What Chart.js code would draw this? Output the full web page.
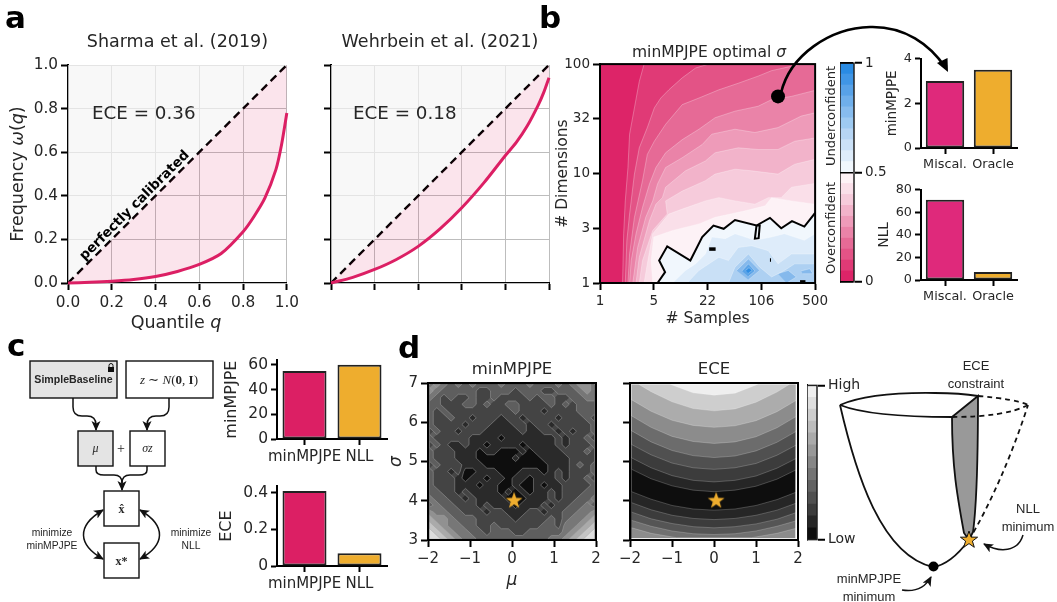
<!DOCTYPE html>
<html lang="en">
<head>
<meta charset="UTF-8">
<title>Calibration figure</title>
<script src="https://cdn.jsdelivr.net/npm/chart.js"></script>
<style>
  html, body { margin: 0; background: #fff; }
  #page { position: relative; width: 1057px; height: 602px; overflow: hidden; }
  #page canvas { position: absolute; }
  #overlay { position: absolute; left: 0; top: 0; }
  #overlay text { font-family: "DejaVu Sans"; fill: #262626; }
  #overlay .box { stroke: #111; stroke-width: 1.4; fill: #fff; }
  #overlay .grey { fill: #e4e4e4; }
  #overlay .link { stroke: #111; stroke-width: 1.5; fill: none; }
  #overlay .sans { font-family: "Liberation Sans"; }
  #overlay .serif { font-family: "Liberation Serif"; }
</style>
</head>
<body>
<div id="page"></div>
<script>
// panel a
const quantiles  = [0, .1, .2, .3, .4, .5, .6, .7, .8, .85, .9, .95, .975, 1];
const sharmaFreq = [0, .003, .008, .016, .03, .053, .085, .135, .235, .305, .39, .52, .63, .78];
const wehrbFreq  = [0, .026, .062, .108, .168, .248, .345, .458, .585, .645, .72, .815, .872, .942];
const ceiling    = [1, 1, 1, 1, 1, 1, 1, 1, 1, 1, 1, 1, 1, 1];
const unitTicks  = [0, .2, .4, .6, .8, 1];

// panel b, contour outlines in tick-index units
const sampleLabels = ['1', '5', '22', '106', '500'];
const dimLabels    = ['1', '3', '10', '32', '100'];
const bandU = [
  [0,0,4,4],
  [.42,.44,.47,.52,.55,.64,.73,.82,4,4],
  [.47,.50,.55,.64,.73,.88,1.01,1.13,1.28,1.53,1.78,2.02,4,4],
  [.52,.55,.64,.79,.88,1.01,1.22,1.53,1.84,2.21,2.57,2.94,3.19,3.74,4,4],
  [.55,.58,.67,.79,.92,1.04,1.22,1.53,1.84,2.14,2.51,2.94,3.19,3.56,4,4],
  [.61,.70,.85,.98,1.07,1.22,1.53,1.90,2.08,2.51,2.88,3.31,3.74,4,4],
  [.67,.73,.92,1.04,1.16,1.22,1.59,1.96,2.14,2.57,2.94,3.31,3.62,4,4],
  [.73,.79,.98,1.25,1.22,1.53,1.96,2.14,2.51,2.82,3.31,3.62,4,4],
  [.82,.88,.98,1.28,1.53,1.96,2.21,2.51,2.88,3.13,3.37,3.56,4,4],
  [.98,.95,1.0,1.35,1.84,2.14,2.70,3.07,3.19,3.56,4,4],
  [1.07,1.21,1.10,1.25,1.68,1.90,2.11,2.30,2.51,2.91,3.16,3.37,3.57,3.80,4,4],
  [1.35,1.59,1.78,1.96,2.08,2.33,2.51,2.70,2.88,3.19,3.43,3.80,4,4],
  [1.62,1.84,2.21,2.39,2.57,2.82,3.13,3.31,3.56,4,4],
  [2.39,2.51,2.76,2.97,3.19,3.43,3.62,4,4],
  [2.54,2.76,2.97,2.76],
  [3.31,3.50,3.65,3.47],
  [3.74,3.90,3.96,3.77],
  [2.64,2.76,2.88,2.76],
  [2.71,2.77,2.83,2.76]
];
const bandV = [
  [0,4,4,0],
  [0,.90,1.50,2.11,2.72,3.2,3.68,4,4,0],
  [0,.78,1.26,1.99,2.47,2.84,3.2,3.38,3.53,3.75,3.93,4,4,0],
  [0,.53,1.2,1.87,2.35,2.59,2.90,3.26,3.38,3.53,3.65,3.78,3.88,4,4,0],
  [0,.41,.90,1.38,1.81,2.11,2.38,2.62,2.81,3.02,3.14,3.23,3.35,3.41,3.52,0],
  [0,.65,1.2,1.5,1.81,2.11,2.29,2.53,2.72,2.81,2.75,2.84,3.05,3.11,0],
  [0,.47,1.14,1.44,1.56,1.75,2.05,2.23,2.38,2.47,2.44,2.44,2.59,2.65,0],
  [0,.41,.96,1.26,1.5,1.68,1.87,1.99,2.08,2.05,1.99,2.17,2.26,0],
  [0,.35,.90,1.26,1.35,1.5,1.56,1.5,1.44,1.56,1.56,1.75,1.82,0],
  [0,.41,.84,.96,1.08,1.2,1.32,1.41,1.56,1.5,1.44,0],
  [0,.20,.41,.67,.41,.84,1.05,.99,1.15,1.05,1.19,1.0,1.13,1.03,1.28,0],
  [0,.23,.35,.53,.84,.81,.90,.84,.78,.84,.90,.78,.90,0],
  [0,.23,.47,.41,.65,.68,.59,.35,.53,.53,0],
  [0,.29,.53,.29,.11,.23,.35,.35,0],
  [.23,.44,.23,.06],
  [.17,.23,.11,0],
  [.22,.26,.17,.17],
  [.22,.35,.22,.12],
  [.23,.28,.23,.18]
];
const bandColors = ['#dd2468','#e03a76','#e35386','#e66a96','#ea83a8','#ee9bb9','#f2b3ca','#f6cbdb','#fadfe9','#fdf2f6','#f1f7fd',
  '#deecfa','#c9e0f6','#add0f2','#85b9ec','#85b9ec','#85b9ec','#5aa3e7','#2f8de3'];
const calibIdx = 10;
const loopU = [[2.91,2.97,2.95,2.88,2.91],[2.03,2.15],[3.16,3.18],[3.72,3.82]];
const loopV = [[1.05,1.05,.82,.81,1.05],[.62,.62],[.42,.42],[.02,.02]];
const chosenU = [3.31];
const chosenV = [3.41];
const calibBar = ['#dd2468','#e03a76','#e35386','#e66a96','#ea83a8','#ee9bb9','#f2b3ca','#f6cbdb','#fadfe9','#fdf2f6',
  '#f1f7fd','#deecfa','#cbe1f7','#b6d5f4','#9ecaf1','#87bcee','#6fafeb','#58a2e8','#4096e6','#2a8be3'];
const calibTicks = [0, .5, 1];
const calibLabels = ['0', '0.5', '1'];

const barNamesB = ['Miscal.', 'Oracle'];
const mpjpeB = [3.0, 3.5];
const nllB   = [71, 7];
const barNamesC = ['minMPJPE', 'NLL'];
const mpjpeC = [55, 60];
const eceC   = [.41, .07];

// panel d, noise map read as grey levels (top row first)
const noiseRows = [
  '454343433343334333434554',
  '543333322333233322333454',
  '432322322322223233223344',
  '332223323223322223232333',
  '323222222222322212222333',
  '322322122212212222122232',
  '322221222111221221222223',
  '232212221111121122121223',
  '322222111101111111212232',
  '232112110111101111212223',
  '322211101100010111122232',
  '322211100000100011112222',
  '232221110000000001112323',
  '322120011100011101212223',
  '322210110110110111212232',
  '322211101100100101122223',
  '332212111101010112122233',
  '433221211110001112122334',
  '343322212111011121223343',
  '544332221221112212233445',
  '655433322222122223234456',
  '765443322322222233244567',
  '876544332333223333345678',
  '887654433333333334456788'
];
const noiseGreys = ['#0e0e0e','#2a2a2a','#444444','#5e5e5e','#777777','#919191','#aaaaaa','#c4c4c4','#dddddd'];

// ECE bands, outlines from the top band down
const eceMu = [
  [-1.96,1.96,1.96,-1.96],
  [-1.96,-1.05,-.5,0,.5,1.05,1.96,1.96,-1.96],
  [-1.96,-1.8,-1.5,-1,-.5,0,.5,1,1.5,1.8,1.96,1.96,-1.96],
  [-1.96,-1.5,-1,-.5,0,.5,1,1.5,1.96,1.96,-1.96],
  [-1.96,-1.5,-1,-.5,0,.5,1,1.5,1.96,1.96,-1.96],
  [-1.96,-1.5,-1,-.5,0,.5,1,1.5,1.96,1.96,-1.96],
  [-1.96,-1.5,-1,-.5,0,.5,1,1.5,1.96,1.96,-1.96],
  [-1.96,-1.5,-1,-.5,0,.5,1,1.5,1.96,1.96,-1.96],
  [-1.96,-1.5,-1,-.5,0,.5,1,1.5,1.96,1.96,-1.96],
  [-1.96,-1.5,-1,-.5,0,.5,1,1.5,1.96,1.96,-1.96],
  [-1.96,-1.5,-1,-.5,0,.5,1,1.5,1.96,1.96,-1.96],
  [-1.96,-1.5,-1,-.5,0,.5,1,1.5,1.96,1.96,-1.96],
  [-1.96,-1.5,-1,-.5,0,.5,1,1.5,1.96,1.96,-1.96],
  [-1.96,-1.5,-.9,.9,1.5,1.96,1.96,-1.96]
];
const eceSigma = [
  [6.97,6.97,3.03,3.03],
  [6.97,6.97,6.75,6.69,6.74,6.97,6.97,3.03,3.03],
  [6.97,6.97,6.78,6.52,6.35,6.29,6.34,6.51,6.77,6.97,6.97,3.03,3.03],
  [6.57,6.28,6.05,5.92,5.87,5.91,6.04,6.27,6.56,3.03,3.03],
  [6.16,5.87,5.64,5.51,5.46,5.50,5.63,5.86,6.15,3.03,3.03],
  [5.78,5.50,5.28,5.15,5.10,5.14,5.27,5.49,5.77,3.03,3.03],
  [5.43,5.17,4.96,4.84,4.80,4.84,4.95,5.16,5.42,3.03,3.03],
  [5.09,4.84,4.64,4.52,4.48,4.52,4.63,4.83,5.08,3.03,3.03],
  [4.80,4.56,4.38,4.27,4.23,4.27,4.37,4.55,4.79,3.03,3.03],
  [4.23,4.04,3.88,3.79,3.76,3.79,3.88,4.03,4.22,3.03,3.03],
  [3.95,3.77,3.63,3.55,3.52,3.55,3.63,3.76,3.94,3.03,3.03],
  [3.71,3.54,3.42,3.34,3.31,3.34,3.41,3.53,3.70,3.03,3.03],
  [3.50,3.35,3.23,3.16,3.14,3.16,3.23,3.35,3.49,3.03,3.03],
  [3.31,3.17,3.06,3.06,3.17,3.30,3.03,3.03]
];
const eceGreys = ['#efefef','#cecece','#acacac','#8c8c8c','#6c6c6c','#505050','#3c3c3c','#262626','#0e0e0e','#262626','#3c3c3c','#555555','#707070','#8c8c8c'];
const eceBar = ['#0e0e0e','#262626','#3c3c3c','#505050','#626262','#747474','#868686','#989898','#aaaaaa','#bcbcbc','#cecece','#dfdfdf','#efefef'];
const muTicks = [-2, -1, 0, 1, 2];
const sigmaTicks = [3, 4, 5, 6, 7];
const starMu = [.05];
const starSigma = [4.01];

const PINK = '#dc1f64', PINK_B = '#df297b', GOLD = '#eead2e', INK = '#262626';
const font = (s, style) => ({ family: '"DejaVu Sans"', size: s, style: style || 'normal', weight: 'normal' });
const pairs = (xs, ys) => xs.map((x, i) => ({ x, y: ys[i] }));

// filled contour levels of a grid dataset, corners come from its scaled points
function paintLevels(ctx, ds, pts) {
  const n = ds.cols, rows = pts.length / n, v = ds.levels;
  ctx.fillStyle = ds.levelColors[0];
  ctx.beginPath();
  [0, n - 1, pts.length - 1, pts.length - n].forEach(i => ctx.lineTo(pts[i].x, pts[i].y));
  ctx.fill();
  for (let k = 1; k < ds.levelColors.length; k++) {
    const t = k - .5, area = new Path2D(), lines = new Path2D();
    for (let r = 0; r < rows - 1; r++) for (let c = 0; c < n - 1; c++) {
      const ids = [r * n + c, r * n + c + 1, (r + 1) * n + c + 1, (r + 1) * n + c];
      const poly = [], cross = [];
      ids.forEach((id, e) => {
        const next = ids[(e + 1) % 4], a = v[id], b = v[next];
        if (a >= t) poly.push(pts[id]);
        if ((a >= t) !== (b >= t)) {
          const f = (t - a) / (b - a);
          const q = { x: pts[id].x + f * (pts[next].x - pts[id].x), y: pts[id].y + f * (pts[next].y - pts[id].y) };
          poly.push(q);
          cross.push(q);
        }
      });
      poly.forEach((p, i) => i ? area.lineTo(p.x, p.y) : area.moveTo(p.x, p.y));
      if (poly.length) area.closePath();
      for (let i = 0; i + 1 < cross.length; i += 2) {
        lines.moveTo(cross[i].x, cross[i].y);
        lines.lineTo(cross[i + 1].x, cross[i + 1].y);
      }
    }
    ctx.fillStyle = ds.levelColors[k];
    ctx.fill(area);
    ctx.strokeStyle = ds.levelLine;
    ctx.lineWidth = .8;
    ctx.stroke(lines);
  }
}

// fills closed outlines and draws a full box round the plot
Chart.register({
  id: 'outlines',
  beforeDatasetsDraw(chart) {
    const { ctx, chartArea: a } = chart;
    ctx.save();
    ctx.beginPath();
    ctx.rect(a.left, a.top, a.width, a.height);
    ctx.clip();
    chart.data.datasets.forEach((ds, i) => {
      const pts = chart.getDatasetMeta(i).data;
      if (ds.levels) paintLevels(ctx, ds, pts);
      if (!ds.shape) return;
      ctx.beginPath();
      pts.forEach((p, k) => k ? ctx.lineTo(p.x, p.y) : ctx.moveTo(p.x, p.y));
      ctx.closePath();
      ctx.fillStyle = ds.shape;
      ctx.fill();
    });
    ctx.restore();
  },
  afterDatasetsDraw(chart, args, opts) {
    if (!opts.width) return;
    const { ctx, chartArea: a } = chart;
    ctx.save();
    ctx.lineWidth = opts.width;
    ctx.strokeStyle = opts.color || '#000';
    ctx.strokeRect(a.left, a.top, a.width, a.height);
    ctx.restore();
  }
});

function axis(o) {
  const ticks = {
    color: INK, font: font(o.size), padding: o.pad === undefined ? 3 : o.pad,
    display: !o.noLabels, autoSkip: false, maxRotation: 0, minRotation: 0
  };
  if (o.labels) ticks.callback = (v, i) => o.labels[i];
  return {
    type: o.type || 'linear', min: o.min, max: o.max, position: o.position,
    display: o.display === undefined ? true : o.display,
    offset: !!o.offset, stacked: !!o.stacked,
    border: { color: '#000', width: 2 },
    grid: {
      offset: false, z: o.gridZ || 0,
      color: o.gridColor || 'rgba(0,0,0,0)', drawOnChartArea: !!o.gridColor,
      tickColor: '#000', tickLength: o.tickLength || 7, tickWidth: 2, lineWidth: o.gridWidth || 1
    },
    title: o.title ? { display: true, text: o.title, color: INK, padding: 0, font: font(o.titleSize, o.titleStyle) } : { display: false },
    ticks,
    afterBuildTicks: o.values ? s => { s.ticks = o.values.map(value => ({ value })); } : undefined,
    afterFit: s => { if (s.isHorizontal()) s.height = o.fit; else s.width = o.fit; }
  };
}

function draw(rect, m, type, datasets, scales, extra) {
  const [l, t, r, b] = rect;
  const c = document.createElement('canvas');
  c.style.left = (l - m.l) + 'px';
  c.style.top = (t - m.t) + 'px';
  c.width = r - l + m.l + m.r;
  c.height = b - t + m.t + m.b;
  document.getElementById('page').appendChild(c);
  const e = extra || {};
  const titleH = e.title ? e.titleSize * 1.2 + e.titleGap : 0;
  const shown = Object.values(scales);
  const has = p => shown.some(s => s.position === p && s.display);
  return new Chart(c, {
    type,
    data: { labels: e.labels, datasets },
    options: {
      responsive: false, animation: false, devicePixelRatio: 1,
      layout: {
        autoPadding: false,
        padding: { left: has('left') ? 0 : m.l, right: has('right') ? 0 : m.r, top: m.t - titleH, bottom: has('bottom') ? 0 : m.b }
      },
      scales,
      plugins: {
        legend: { display: false }, tooltip: { enabled: false },
        title: e.title ? { display: true, text: e.title, color: INK, fullSize: false, font: font(e.titleSize), padding: { top: 0, bottom: e.titleGap } } : { display: false },
        outlines: { width: e.frame || 0, color: e.frameColor }
      }
    }
  });
}

function calibrationPanel(rect, m, freq, title, showLabels) {
  const common = { min: 0, max: 1, values: unitTicks, labels: unitTicks.map(v => v.toFixed(1)), size: 15.3, gridColor: '#bdbdbd', noLabels: !showLabels };
  draw(rect, m, 'scatter', [
    { data: pairs(quantiles, freq), showLine: true, tension: .3, borderColor: PINK, borderWidth: 3, pointRadius: 0, clip: false, fill: { target: 1 }, backgroundColor: 'rgba(219,31,101,.12)' },
    { data: pairs(quantiles, quantiles), showLine: true, borderColor: '#000', borderWidth: 2.4, borderDash: [8, 5], pointRadius: 0, clip: 3 },
    { data: pairs(quantiles, ceiling), showLine: true, borderWidth: 0, pointRadius: 0, fill: { target: 1 }, backgroundColor: 'rgba(245,245,245,.7)' }
  ], {
    x: axis({ ...common, position: 'bottom', fit: m.b, pad: 4 }),
    y: axis({ ...common, position: 'left', fit: m.l })
  }, { title, titleSize: 17.5, titleGap: 12 });
}

calibrationPanel([68, 65, 287, 283], { l: 40, t: 36, r: 16, b: 36 }, sharmaFreq, 'Sharma et al. (2019)', true);
calibrationPanel([331, 65, 549, 283], { l: 10, t: 36, r: 10, b: 12 }, wehrbFreq, 'Wehrbein et al. (2021)', false);

// panel b heat map
const bandSets = bandU.map((u, i) => ({
  data: pairs(u, bandV[i]), shape: bandColors[i], showLine: true,
  borderColor: 'rgba(255,255,255,.4)', borderWidth: .7, pointRadius: 0
}));
const loopSets = loopU.map((u, i) => ({ data: pairs(u, loopV[i]), showLine: true, borderColor: '#000', borderWidth: i ? 3.5 : 2, pointRadius: 0 }));
draw([600, 63, 817, 283], { l: 46, t: 10, r: 14, b: 45 }, 'scatter', [
  { data: pairs(chosenU, chosenV), pointRadius: 7, backgroundColor: '#000', borderWidth: 0 },
  { data: pairs(bandU[calibIdx].slice(0, -1), bandV[calibIdx].slice(0, -1)), showLine: true, borderColor: '#000', borderWidth: 2, pointRadius: 0 },
  ...loopSets,
  ...bandSets
], {
  x: axis({ min: 0, max: 4, values: [0, 1, 2, 3, 4], labels: sampleLabels, size: 13.5, position: 'bottom', fit: 45, title: '# Samples', titleSize: 15.5 }),
  y: axis({ min: 0, max: 4, values: [0, 1, 2, 3, 4], labels: dimLabels, size: 13.5, position: 'left', fit: 46, title: '# Dimensions', titleSize: 15.5 })
}, { frame: 2 });

function colorBar(rect, m, colors, scale, values, labels, gridColor, size) {
  const step = scale / colors.length;
  draw(rect, m, 'bar', colors.map(col => ({
    data: [step], backgroundColor: col, borderWidth: 0, barPercentage: 1, categoryPercentage: 1
  })), {
    x: { type: 'category', display: false, stacked: true, position: 'bottom', offset: true },
    y: axis({ min: 0, max: scale, stacked: true, values, labels, size, position: 'right', fit: m.r, gridColor, gridZ: 1, gridWidth: 1.5, pad: 3, tickLength: 8 })
  }, { labels: ['scale'], frame: 1.5, frameColor: '#222' });
}
colorBar([840, 62, 854, 283], { l: 0, t: 10, r: 36, b: 10 }, calibBar, 1, calibTicks, calibLabels, '#000', 13.5);

function barPanel(rect, m, names, values, color, o) {
  draw(rect, m, 'bar', [{
    data: values, backgroundColor: [color, GOLD], borderColor: '#222', borderWidth: 2, borderSkipped: false,
    barPercentage: .8, categoryPercentage: 1
  }], {
    x: axis({ type: 'category', offset: true, labels: names, size: o.xSize || o.size, position: 'bottom', fit: m.b, tickLength: 6 }),
    y: axis({ min: 0, max: o.max, values: o.ticks, labels: o.tickLabels, size: o.size, position: 'left', fit: m.l, title: o.title, titleSize: o.titleSize, tickLength: 6 })
  }, { labels: names });
}
barPanel([921, 58, 1017, 148], { l: 37, t: 10, r: 12, b: 25 }, barNamesB, mpjpeB, PINK_B,
  { max: 4, ticks: [0, 2, 4], tickLabels: ['0', '2', '4'], size: 12.8, title: 'minMPJPE', titleSize: 13.5 });
barPanel([921, 189, 1017, 280], { l: 45, t: 10, r: 12, b: 25 }, barNamesB, nllB, PINK_B,
  { max: 80, ticks: [0, 20, 40, 60, 80], tickLabels: ['0', '20', '40', '60', '80'], size: 12.8, title: 'NLL', titleSize: 13.5 });
barPanel([277, 358, 387, 439], { l: 55, t: 10, r: 12, b: 30 }, barNamesC, mpjpeC, PINK,
  { max: 63.7, ticks: [0, 20, 40, 60], tickLabels: ['0', '20', '40', '60'], size: 15.5, xSize: 15, title: 'minMPJPE', titleSize: 16 });
barPanel([277, 484, 387, 566], { l: 60, t: 10, r: 12, b: 30 }, barNamesC, eceC, PINK,
  { max: .435, ticks: [0, .2, .4], tickLabels: ['0', '0.2', '0.4'], size: 15.5, xSize: 15, title: 'ECE', titleSize: 16 });

// gold star marker
const starImg = document.createElement('canvas');
starImg.width = starImg.height = 18;
(function () {
  const g = starImg.getContext('2d');
  g.beginPath();
  for (let i = 0; i < 10; i++) {
    const r = i % 2 ? 3.6 : 8.8, t = -Math.PI / 2 + i * Math.PI / 5;
    g.lineTo(9 + r * Math.cos(t), 9.4 + r * Math.sin(t));
  }
  g.closePath();
  g.fillStyle = GOLD;
  g.fill();
})();
const starSet = { data: pairs(starMu, starSigma), pointStyle: starImg, pointRadius: 9 };

const muLabels = ['\u22122', '\u22121', '0', '1', '2'];
const sigmaLabels = sigmaTicks.map(String);
const noiseNodes = [], noiseLevels = [];
noiseRows.forEach((row, r) => [...row].forEach((d, c) => {
  noiseNodes.push({ x: -1.96 + c * 3.92 / 23, y: 6.97 - r * 3.94 / 23 });
  noiseLevels.push(+d);
}));
const boxX = (labelled, fit) => axis({ min: -2, max: 2, values: muTicks, labels: muLabels, size: 15, position: 'bottom', fit, title: labelled ? '\u03bc' : undefined, titleSize: 17, titleStyle: 'italic' });
const boxY = (labelled, fit) => axis({ min: 3, max: 7, values: sigmaTicks, labels: sigmaLabels, size: 15, noLabels: !labelled, position: 'left', fit, title: labelled ? '\u03c3' : undefined, titleSize: 17, titleStyle: 'italic' });

draw([428, 383, 596, 540], { l: 42, t: 24, r: 12, b: 51 }, 'scatter', [
  starSet,
  { data: noiseNodes, pointRadius: 0, cols: 24, levels: noiseLevels, levelColors: noiseGreys, levelLine: 'rgba(165,165,165,.6)' }
], { x: boxX(true, 51), y: boxY(true, 42) }, { title: 'minMPJPE', titleSize: 16.5, titleGap: 3, frame: 2 });

const eceSets = eceMu.map((m, i) => ({
  data: pairs(m, eceSigma[i]), shape: eceGreys[i], showLine: true,
  borderColor: 'rgba(255,255,255,.3)', borderWidth: .7, pointRadius: 0
}));
draw([630, 383, 798, 540], { l: 14, t: 24, r: 12, b: 30 }, 'scatter', [
  starSet,
  ...eceSets
], { x: boxX(false, 30), y: boxY(false, 14) }, { title: 'ECE', titleSize: 16.5, titleGap: 3, frame: 2 });

colorBar([807, 384, 817, 541], { l: 0, t: 10, r: 50, b: 10 }, eceBar, 13, [0, 13], ['Low', 'High'], undefined, 14);
</script>

<script>
// labels with mixed italics and the schematic drawings
document.getElementById('page').insertAdjacentHTML('beforeend', `
<svg id="overlay" width="1057" height="602" viewBox="0 0 1057 602">
  <defs>
    <marker id="head" orient="auto-start-reverse" markerUnits="userSpaceOnUse" markerWidth="12" markerHeight="10" refX="9" refY="4.5">
      <path d="M0 0L10 4.5L0 9L2.5 4.5Z" fill="#111"/>
    </marker>
  </defs>
  <g font-weight="bold">
    <text x="5" y="28" font-size="31" style="fill:#000;font-weight:bold">a</text>
    <text x="539" y="28" font-size="31" style="fill:#000;font-weight:bold">b</text>
    <text x="7" y="356" font-size="31" style="fill:#000;font-weight:bold">c</text>
    <text x="398" y="358" font-size="31" style="fill:#000;font-weight:bold">d</text>
  </g>

  <text transform="translate(23,174) rotate(-90)" text-anchor="middle" font-size="17.5">Frequency <tspan font-style="italic">ω</tspan>(<tspan font-style="italic">q</tspan>)</text>
  <text x="176" y="328" text-anchor="middle" font-size="17.5">Quantile <tspan font-style="italic">q</tspan></text>
  <text x="92" y="119" font-size="18.3">ECE = 0.36</text>
  <text x="353" y="119" font-size="18.3">ECE = 0.18</text>
  <text transform="translate(134,205) rotate(-45)" text-anchor="middle" dominant-baseline="central" font-size="13.4" font-weight="bold" style="fill:#000">perfectly calibrated</text>

  <text x="709" y="57" text-anchor="middle" font-size="15.5">minMPJPE optimal <tspan font-style="italic">σ</tspan></text>
  <text transform="translate(835,116) rotate(-90)" text-anchor="middle" font-size="13">Underconfident</text>
  <text transform="translate(835,228) rotate(-90)" text-anchor="middle" font-size="13">Overconfident</text>
  <path d="M781 93C790 55 830 28 870 27C905 26 930 45 945 67" fill="none" stroke="#000" stroke-width="2.6"/>
  <polygon points="948,72 937,63 947.5,58" fill="#000"/>

  <rect class="box grey" x="30" y="361" width="87" height="37"/>
  <rect class="box" x="126" y="361" width="87" height="37"/>
  <text class="sans" x="73.5" y="383" text-anchor="middle" font-size="10.6" font-weight="bold">SimpleBaseline</text>
  <g fill="#111"><rect x="108" y="367" width="6" height="5"/><path d="M109 367v-1.5a2 2 0 0 1 4 0v1.5" fill="none" stroke="#111"/></g>
  <text class="serif" x="169" y="384" text-anchor="middle" font-size="13"><tspan font-style="italic">z</tspan> ∼ <tspan font-style="italic">N</tspan>(<tspan font-weight="bold">0</tspan>, <tspan font-weight="bold">I</tspan>)</text>
  <rect class="box grey" x="78" y="431" width="35" height="35"/>
  <rect class="box" x="130" y="431" width="35" height="35"/>
  <rect class="box" x="104" y="491" width="35" height="35"/>
  <rect class="box" x="104" y="543" width="35" height="35"/>
  <text class="serif" x="95.5" y="452" text-anchor="middle" font-size="12" font-style="italic">μ</text>
  <text class="serif" x="147.5" y="452" text-anchor="middle" font-size="12" font-style="italic">σz</text>
  <text class="serif" x="121" y="453" text-anchor="middle" font-size="14">+</text>
  <text class="serif" x="121.5" y="513" text-anchor="middle" font-size="12" font-weight="bold">x̂</text>
  <text class="serif" x="121.5" y="565" text-anchor="middle" font-size="12" font-weight="bold">x*</text>
  <path class="link" d="M73 398V407Q73 416 82 416H87Q96 416 96 425V430" marker-end="url(#head)"/>
  <path class="link" d="M169 398V407Q169 416 160 416H156Q147 416 147 425V430" marker-end="url(#head)"/>
  <path class="link" d="M96 466V470Q96 475 104 475H114Q122 475 122 483V490" marker-end="url(#head)"/>
  <path class="link" d="M147 466V470Q147 475 139 475H130Q122 475 122 483" />
  <path class="link" d="M103 510C76 526 78 545 103 559" marker-start="url(#head)" marker-end="url(#head)"/>
  <path class="link" d="M140 510C167 526 165 545 140 559" marker-start="url(#head)" marker-end="url(#head)"/>
  <g class="sans" text-anchor="middle" font-size="10.3">
    <text class="sans" x="52" y="536">minimize</text>
    <text class="sans" x="52" y="549">minMPJPE</text>
    <text class="sans" x="191" y="536">minimize</text>
    <text class="sans" x="191" y="549">NLL</text>
  </g>

  <path d="M952 417L978 396C978 470 976 510 973 532L969 540L964 533C958 500 952 470 952 417Z" fill="#999" stroke="#111" stroke-width="1.8"/>
  <g fill="none" stroke="#111" stroke-width="1.8">
    <path d="M840 405Q870 392 935 393Q960 393 978 396"/>
    <path d="M840 405Q870 417 952 417"/>
    <path d="M840 405C855 470 880 555 933 567C948 565 960 552 969 540"/>
    <path stroke-dasharray="5 4" d="M978 396Q1015 399 1028 405"/>
    <path stroke-dasharray="5 4" d="M952 417Q1005 417 1028 405"/>
    <path stroke-dasharray="5 4" d="M969 540C990 505 1012 455 1028 405"/>
  </g>
  <circle cx="933.5" cy="566.5" r="5" fill="#000"/>
  <polygon points="969,531 971.1,537.1 977.6,537.2 972.4,541.1 974.3,547.3 969,543.6 963.7,547.3 965.6,541.1 960.4,537.2 966.9,537.1" fill="#eead2e" stroke="#111"/>
  <path class="link" d="M1023 535C1018 552 1000 553 984 544" marker-end="url(#head)"/>
  <path class="link" d="M902 590C915 592 925 588 931 577" marker-end="url(#head)"/>
  <g text-anchor="middle" font-size="13">
    <text class="sans" x="976" y="370">ECE</text>
    <text class="sans" x="976" y="388">constraint</text>
    <text class="sans" x="1028" y="513">NLL</text>
    <text class="sans" x="1028" y="531">minimum</text>
    <text class="sans" x="869" y="583">minMPJPE</text>
    <text class="sans" x="869" y="601">minimum</text>
  </g>
</svg>`);
</script>
</body>
</html>
